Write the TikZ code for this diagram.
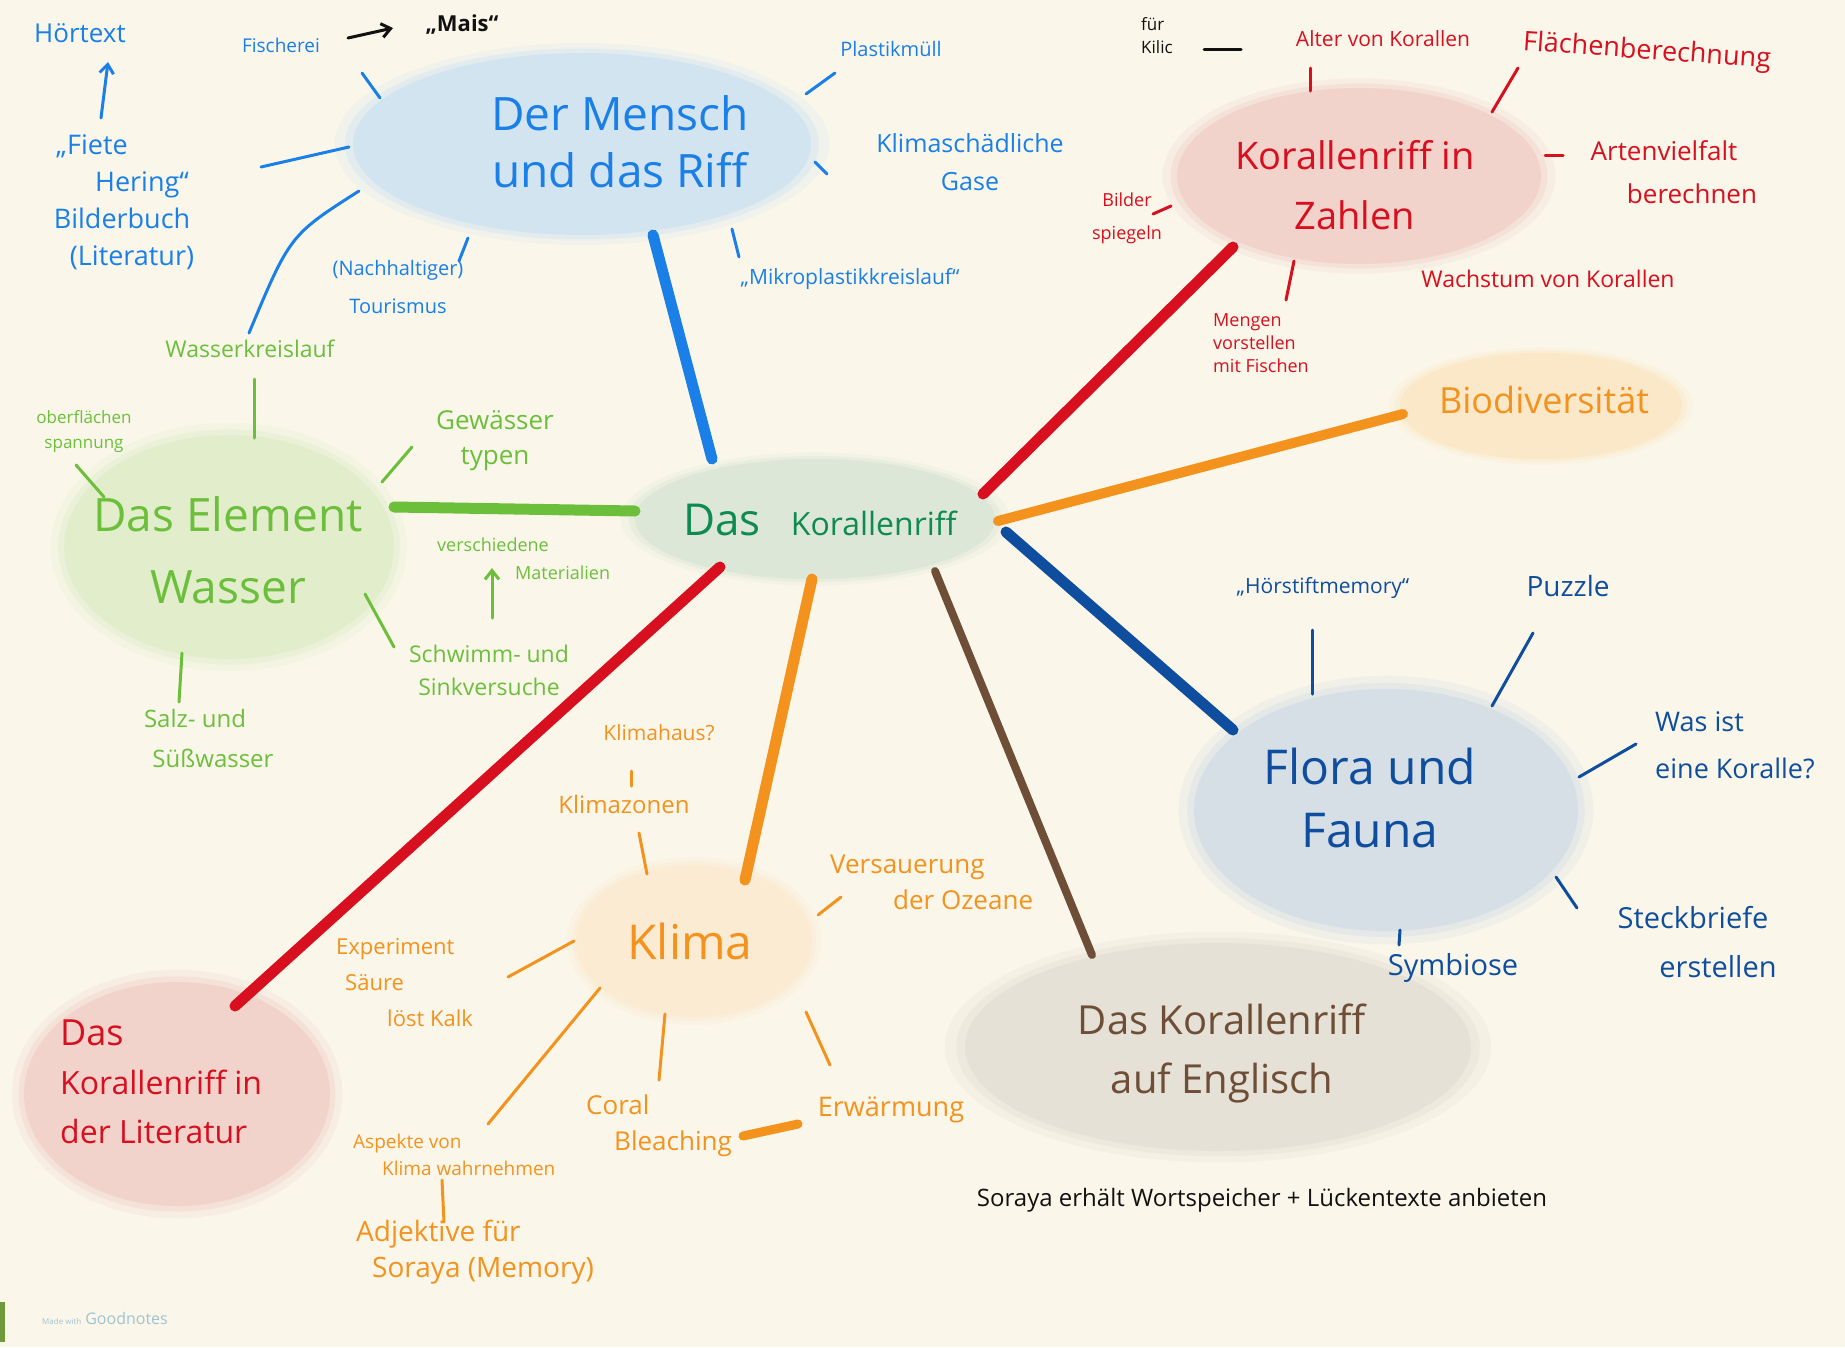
\documentclass[tikz,border=0pt]{standalone}
\usepackage{fontspec}
\setmainfont{Open Sans}
\usetikzlibrary{arrows.meta}
\definecolor{bgc}{HTML}{FAF7EA}
\definecolor{bl}{HTML}{1A7FE6}
\definecolor{blblob}{HTML}{D3E4F1}
\definecolor{cgreen}{HTML}{0F8A50}
\definecolor{cblob}{HTML}{DCE7D7}
\definecolor{gr}{HTML}{6CBF3B}
\definecolor{grblob}{HTML}{E2EDCC}
\definecolor{rd}{HTML}{D80F1E}
\definecolor{rdblob}{HTML}{F1D3CC}
\definecolor{og}{HTML}{F4921E}
\definecolor{ogblob}{HTML}{FAE8C8}
\definecolor{klblob}{HTML}{FAEBD2}
\definecolor{db}{HTML}{0F4E9E}
\definecolor{dbblob}{HTML}{D6DFE5}
\definecolor{br}{HTML}{6F4E37}
\definecolor{brblob}{HTML}{E5E1D6}
\definecolor{blk}{HTML}{111111}
\definecolor{gn}{HTML}{9EC4D0}
\definecolor{edge}{HTML}{6E9A3C}
\newcommand{\fsz}[2]{\fontsize{#1}{#2}\selectfont}
\newcommand{\blobfill}[5]{%
  \fill[#5,opacity=0.25] (#1,#2) ellipse [x radius=#3*1.08, y radius=#4*1.11];
  \fill[#5,opacity=0.45] (#1,#2) ellipse [x radius=#3*1.035, y radius=#4*1.05];
  \fill[#5] (#1,#2) ellipse [x radius=#3, y radius=#4];}
\newcommand{\stroke}[6]{%
  \coordinate (#1a) at (#2,#3); \coordinate (#1b) at (#4,#5);
  \draw[#6] (#1a) -- (#1b);}
\tikzset{
  lbl/.style={inner sep=0pt, align=center},
  lbll/.style={inner sep=0pt, align=left, anchor=west},
  sub/.style={line width=3pt, line cap=round},
  mainline/.style={line width=11pt, line cap=round},
}
\begin{document}
\begin{tikzpicture}[x=1pt,y=-1pt]
\useasboundingbox (0,0) rectangle (1845,1347);
\fill[bgc] (0,0) rectangle (1845,1347);

% blobs
\blobfill{582}{144}{229}{91}{blblob}
\blobfill{815}{519}{180}{60}{cblob}
\blobfill{229}{547}{165}{112}{grblob}
\blobfill{1359}{176}{182}{88}{rdblob}
\blobfill{1541}{406}{141}{53}{ogblob}
\blobfill{1386}{810}{192}{121}{dbblob}
\blobfill{1218}{1047}{253}{104}{brblob}
\blobfill{694}{941}{118}{76}{klblob}
\blobfill{177}{1094}{153}{112}{rdblob}

% main lines
\stroke{mA}{653}{235}{712}{459}{mainline,bl}
\stroke{mB}{394}{507}{635}{511}{mainline,gr}
\stroke{mC}{983}{494}{1233}{247}{mainline,rd}
\stroke{mD}{998}{521}{1403}{414}{mainline,og,line width=10pt}
\stroke{mE}{1006}{532}{1233}{730}{mainline,db}
\stroke{mF}{935}{571}{1092}{955}{mainline,br,line width=8pt}
\stroke{mG}{812}{579}{745}{880}{mainline,og}
\stroke{mH}{720}{567}{235}{1006}{mainline,rd}

% main nodes
\node[lbl,text=bl,font={\fsz{46}{57}}] (mensch) at (620,142) {Der Mensch\\und das Riff};
\node[lbl,text=cgreen] (center) at (820,520) {{\fsz{44}{50}Das}\hspace{30pt}{\fsz{32}{40}Korallenriff}};
\node[lbl,text=gr,font={\fsz{46}{72}}] (wasser) at (228,550) {Das Element\\Wasser};
\node[lbl,text=rd,font={\fsz{38}{60}}] (zahlen) at (1355,185) {Korallenriff in\\Zahlen};
\node[lbl,text=og,font={\fsz{36}{44}}] (biodiv) at (1544,400) {Biodiversität};
\node[lbl,text=db,font={\fsz{48}{63}}] (flora) at (1370,798) {Flora und\\Fauna};
\node[lbl,text=br,font={\fsz{40}{59}}] (englisch) at (1222,1053) {Das Korallenriff\\auf Englisch};
\node[lbl,text=og,font={\fsz{48}{56}}] (klima) at (690,941) {Klima};
\node[lbll,text=rd,font={\fsz{32}{49}}] (literatur) at (60,1082) {{\fsz{36}{49}Das}\\Korallenriff in\\der Literatur};

% Mensch branch
\node[lbl,text=bl,font={\fsz{26}{30}}] (hoertext) at (80,33) {Hörtext};
\node[lbl,text=bl,font={\fsz{27}{37}}] (fiete) at (122,202) {„Fiete\hspace*{60pt}\\\hspace*{40pt}Hering“\\Bilderbuch\\\hspace*{20pt}(Literatur)};
\stroke{aH}{101}{118}{108}{62}{sub,bl,-{Straight Barb[length=9pt,width=14pt]}}
\node[lbl,text=bl,font={\fsz{19}{22}}] (fischerei) at (281,45) {Fischerei};
\node[lbl,text=blk,font={\fsz{22}{26}\bfseries}] (mais) at (462,25) {„Mais“};
\stroke{aM}{348}{38}{393}{28}{sub,blk,-{Straight Barb[length=9pt,width=14pt]}}
\node[lbl,text=bl,font={\fsz{20}{24}}] (plastik) at (891,49) {Plastikmüll};
\node[lbl,text=bl,font={\fsz{25}{38}}] (klimagase) at (970,162) {Klimaschädliche\\Gase};
\node[lbl,text=bl,font={\fsz{21}{25}}] (mikro) at (850,279) {„Mikroplastikkreislauf“};
\node[lbl,text=bl,font={\fsz{20}{38}}] (touris) at (398,287) {(Nachhaltiger)\\Tourismus};
\stroke{s1}{362}{73}{380}{98}{sub,bl}
\stroke{s2}{261}{167}{349}{147}{sub,bl}
\coordinate (s3a) at (359,191); \coordinate (s3b) at (249,333);
\draw[sub,bl] (s3a) .. controls (290,235) .. (s3b);
\stroke{s4}{468}{238}{459}{261}{sub,bl}
\stroke{s5}{732}{229}{739}{257}{sub,bl}
\stroke{s6}{815}{162}{827}{174}{sub,bl}
\stroke{s7}{806}{94}{835}{73}{sub,bl}

% Wasser branch
\node[lbl,text=gr,font={\fsz{23}{27}}] (wkreis) at (250,349) {Wasserkreislauf};
\node[lbl,text=gr,font={\fsz{17}{25}}] (oberfl) at (84,432) {oberflächen\\spannung};
\node[lbl,text=gr,font={\fsz{26}{35}}] (gewaess) at (495,441) {Gewässer\\typen};
\node[lbll,text=gr,font={\fsz{18}{28}}] (versch) at (437,559) {verschiedene\\\hspace*{78pt}Materialien};
\stroke{aV}{492}{618}{492}{568}{sub,gr,-{Straight Barb[length=9pt,width=14pt]}}
\node[lbl,text=gr,font={\fsz{23}{33}}] (schwimm) at (489,670) {Schwimm- und\\Sinkversuche};
\node[lbl,text=gr,font={\fsz{24}{40}}] (salz) at (195,738) {Salz- und\\\hspace*{36pt}Süßwasser};
\stroke{g1}{254}{379}{254}{438}{sub,gr}
\stroke{g2}{76}{465}{104}{497}{sub,gr}
\stroke{g3}{382}{482}{412}{447}{sub,gr}
\stroke{g4}{365}{594}{394}{647}{sub,gr}
\stroke{g5}{182}{653}{179}{702}{sub,gr}

% Zahlen branch
\node[lbll,text=blk,font={\fsz{17}{23}}] (fuer) at (1141,36) {für\\Kilic};
\stroke{k1}{1204}{49}{1241}{49}{sub,blk}
\node[lbl,text=rd,font={\fsz{21}{25}}] (alter) at (1383,39) {Alter von Korallen};
\node[lbl,text=rd,rotate=-4,font={\fsz{27}{31}}] (flaeche) at (1647,52) {Flächenberechnung};
\node[lbl,text=rd,font={\fsz{26}{43}}] (artenv) at (1674,172) {Artenvielfalt\hspace*{20pt}\\\hspace*{36pt}berechnen};
\node[lbl,text=rd,font={\fsz{23}{27}}] (wachs) at (1548,279) {Wachstum von Korallen};
\node[lbl,text=rd,font={\fsz{18}{33}}] (bilder) at (1127,218) {Bilder\\spiegeln};
\node[lbll,text=rd,font={\fsz{18}{23}}] (mengen) at (1213,343) {Mengen\\vorstellen\\mit Fischen};
\stroke{r1}{1310}{68}{1310}{91}{sub,rd}
\stroke{r2}{1518}{68}{1492}{112}{sub,rd}
\stroke{r3}{1545}{155}{1563}{155}{sub,rd}
\stroke{r4}{1153}{214}{1171}{206}{sub,rd}
\stroke{r5}{1294}{261}{1286}{300}{sub,rd}

% Klima branch
\node[lbl,text=og,font={\fsz{21}{25}}] (klimahaus) at (659,733) {Klimahaus?};
\node[lbl,text=og,font={\fsz{24}{28}}] (klimazonen) at (624,804) {Klimazonen};
\node[lbll,text=og,font={\fsz{26}{36}}] (versauer) at (830,882) {Versauerung\\\hspace*{63pt}der Ozeane};
\node[lbll,text=og,font={\fsz{22}{36}}] (experim) at (336,983) {Experiment\\\hspace*{9pt}Säure\\\hspace*{51pt}löst Kalk};
\node[lbll,text=og,font={\fsz{19}{27}}] (aspekte) at (353,1155) {Aspekte von\\\hspace*{29pt}Klima wahrnehmen};
\node[lbll,text=og,font={\fsz{28}{36}}] (adjekt) at (356,1252) {Adjektive für\\\hspace*{16pt}Soraya (Memory)};
\node[lbll,text=og,font={\fsz{26}{36}}] (coral) at (586,1126) {Coral\\\hspace*{28pt}Bleaching};
\node[lbl,text=og,font={\fsz{27}{31}}] (erwaerm) at (891,1110) {Erwärmung};
\stroke{o1}{631}{771}{631}{786}{sub,og}
\stroke{o2}{639}{833}{647}{874}{sub,og}
\stroke{o3}{841}{897}{818}{915}{sub,og}
\stroke{o4}{574}{941}{508}{977}{sub,og}
\stroke{o5}{600}{988}{488}{1124}{sub,og}
\stroke{o6}{442}{1180}{444}{1222}{sub,og}
\stroke{o7}{665}{1014}{659}{1080}{sub,og}
\stroke{o8}{806}{1012}{830}{1065}{sub,og}
\stroke{o9}{743}{1136}{798}{1124}{sub,og,line width=9pt}

% Flora branch
\node[lbl,text=db,font={\fsz{21}{25}}] (hoerstift) at (1323,588) {„Hörstiftmemory“};
\node[lbl,text=db,font={\fsz{28}{32}}] (puzzle) at (1568,586) {Puzzle};
\node[lbll,text=db,font={\fsz{27}{47}}] (wasist) at (1655,745) {Was ist\\eine Koralle?};
\node[lbl,text=db,font={\fsz{29}{49}}] (steck) at (1703,942) {Steckbriefe\hspace*{20pt}\\\hspace*{30pt}erstellen};
\node[lbl,text=db,font={\fsz{29}{33}}] (symb) at (1453,968) {Symbiose};
\stroke{d1}{1312}{630}{1312}{694}{sub,db}
\stroke{d2}{1533}{633}{1492}{706}{sub,db}
\stroke{d3}{1636}{744}{1579}{777}{sub,db}
\stroke{d4}{1556}{877}{1577}{908}{sub,db}
\stroke{d5}{1400}{930}{1399}{945}{sub,db}

% black note
\node[lbl,text=blk,font={\fsz{24}{28}}] (soraya) at (1262,1200) {Soraya erhält Wortspeicher + Lückentexte anbieten};

% watermark
\fill[edge] (0,1302) rectangle (5,1342);
\node[lbl,text=gn] (goodnotes) at (105,1318) {{\fsz{8}{10}Made with}\hspace{4pt}{\fsz{16}{18}Goodnotes}};
\end{tikzpicture}
\end{document}
